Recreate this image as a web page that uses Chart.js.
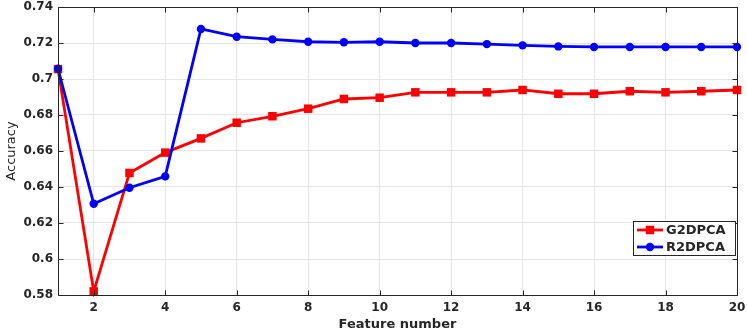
<!DOCTYPE html>
<html>
<head>
<meta charset="utf-8">
<script src="https://cdn.jsdelivr.net/npm/chart.js@4/dist/chart.umd.min.js"></script>
<style>
html,body{margin:0;padding:0;background:#fff;}
#wrap{width:747px;height:332px;position:relative;}
</style>
</head>
<body>
<div id="wrap"><canvas id="c" width="747" height="332"></canvas></div>
<script>
const featureNumbers = [1,2,3,4,5,6,7,8,9,10,11,12,13,14,15,16,17,18,19,20];
const g2dpca = [0.7055,0.582,0.6478,0.6591,0.667,0.6757,0.6793,0.6835,0.6889,0.6896,0.6926,0.6926,0.6926,0.6939,0.6918,0.6918,0.6932,0.6926,0.6932,0.6939];
const r2dpca = [0.7057,0.6307,0.6396,0.6459,0.7278,0.7235,0.7220,0.7207,0.7204,0.7207,0.7200,0.7200,0.7194,0.7187,0.7181,0.7178,0.7178,0.7178,0.7178,0.7178];
const xTicks = [2,4,6,8,10,12,14,16,18,20];
const yTicks = [0.58,0.60,0.62,0.64,0.66,0.68,0.70,0.72,0.74];
const seriesNames = ['G2DPCA','R2DPCA'];
const xTitle = 'Feature number';
const yTitle = 'Accuracy';

const TXT = '#262626';
const GRID = '#e6e6e6';

const toPts = arr => arr.map((v,i)=>({x:featureNumbers[i], y:v}));

const boxPlugin = {
  id:'boxPlugin',
  afterDatasetsDraw(chart){
    const {ctx, chartArea:a, scales:{x,y}} = chart;
    ctx.save();
    ctx.strokeStyle = TXT;
    ctx.lineWidth = 1;
    const L = Math.round(a.left)+0.5, R = Math.round(a.right)+0.5, T = Math.round(a.top)+0.5, B = Math.round(a.bottom)+0.5;
    ctx.beginPath();
    ctx.rect(L, T, R-L, B-T);
    ctx.stroke();
    const tl = 5;
    ctx.beginPath();
    xTicks.forEach(v=>{
      const px = Math.round(x.getPixelForValue(v))+0.5;
      ctx.moveTo(px,B); ctx.lineTo(px,B-tl);
      ctx.moveTo(px,T); ctx.lineTo(px,T+tl);
    });
    yTicks.forEach(v=>{
      const py = Math.round(y.getPixelForValue(v))+0.5;
      ctx.moveTo(L,py); ctx.lineTo(L+tl,py);
      ctx.moveTo(R,py); ctx.lineTo(R-tl,py);
    });
    ctx.stroke();
    ctx.restore();
  },
  afterDraw(chart){
    const {ctx} = chart;
    const bx = 633, by = 221, bw = 102, bh = 34;
    ctx.save();
    ctx.fillStyle = '#fff';
    ctx.fillRect(bx, by, bw, bh);
    ctx.strokeStyle = TXT;
    ctx.lineWidth = 1;
    ctx.strokeRect(bx+0.5, by+0.5, bw, bh);
    const rows = [230, 247];
    chart.data.datasets.forEach((ds, i)=>{
      const yy = rows[i];
      ctx.strokeStyle = ds.borderColor;
      ctx.lineWidth = ds.borderWidth;
      ctx.beginPath();
      ctx.moveTo(637, yy); ctx.lineTo(663, yy);
      ctx.stroke();
      ctx.fillStyle = ds.pointBackgroundColor;
      if (ds.pointStyle === 'rect') {
        const s = ds.pointRadius*Math.SQRT1_2;
        ctx.fillRect(650-s, yy-s, 2*s, 2*s);
      } else {
        ctx.beginPath(); ctx.arc(650, yy, ds.pointRadius, 0, Math.PI*2); ctx.fill();
      }
      ctx.fillStyle = TXT;
      ctx.font = 'bold 13px "DejaVu Sans"';
      ctx.textBaseline = 'middle';
      ctx.textAlign = 'left';
      ctx.fillText(ds.label, 666, yy+0.5);
    });
    ctx.restore();
  }
};

new Chart(document.getElementById('c'), {
  type:'line',
  data:{
    datasets:[
      {label:seriesNames[0], data:toPts(g2dpca), borderColor:'#ff0000', backgroundColor:'#ff0000', pointBackgroundColor:'#ff0000', pointBorderColor:'#ff0000', borderWidth:2.8, pointStyle:'rect', pointRadius:6, pointBorderWidth:0, order:2, clip:false, tension:0},
      {label:seriesNames[1], data:toPts(r2dpca), borderColor:'#0000ff', backgroundColor:'#0000ff', pointBackgroundColor:'#0000ff', pointBorderColor:'#0000ff', borderWidth:2.8, pointStyle:'circle', pointRadius:4.2, pointBorderWidth:0, order:1, clip:false, tension:0}
    ]
  },
  options:{
    responsive:false,
    animation:false,
    devicePixelRatio:1,
    layout:{padding:{left:0,right:10,top:7,bottom:0}},
    plugins:{legend:{display:false}, tooltip:{enabled:false}},
    scales:{
      x:{
        type:'linear', min:1, max:20,
        afterBuildTicks(s){ s.ticks = xTicks.map(v=>({value:v})); },
        afterFit(s){ s.height = 37; s.paddingLeft = 0; s.paddingRight = 0; },
        grid:{color:GRID, drawTicks:false, lineWidth:1},
        border:{display:false},
        ticks:{color:TXT, font:{family:'"DejaVu Sans"', size:12, weight:'bold'}, padding:6, maxRotation:0, autoSkip:false},
        title:{display:true, text:xTitle, color:TXT, font:{family:'"DejaVu Sans"', size:13, weight:'bold', lineHeight:1}, padding:{top:0,bottom:0.5}}
      },
      y:{
        type:'linear', min:0.58, max:0.74,
        afterBuildTicks(s){ s.ticks = yTicks.map(v=>({value:v})); },
        afterFit(s){ s.width = 58; s.paddingTop = 0; s.paddingBottom = 0; },
        grid:{color:GRID, drawTicks:false, lineWidth:1},
        border:{display:false},
        ticks:{color:TXT, font:{family:'"DejaVu Sans"', size:12, weight:'bold'}, padding:5, autoSkip:false,
          callback:(v)=>String(parseFloat(Number(v).toFixed(2)))},
        title:{display:true, text:yTitle, color:TXT, font:{family:'"DejaVu Sans"', size:13, weight:'normal', lineHeight:1}, padding:{top:5.5,bottom:5.5}}
      }
    }
  },
  plugins:[boxPlugin]
});
</script>
</body>
</html>
